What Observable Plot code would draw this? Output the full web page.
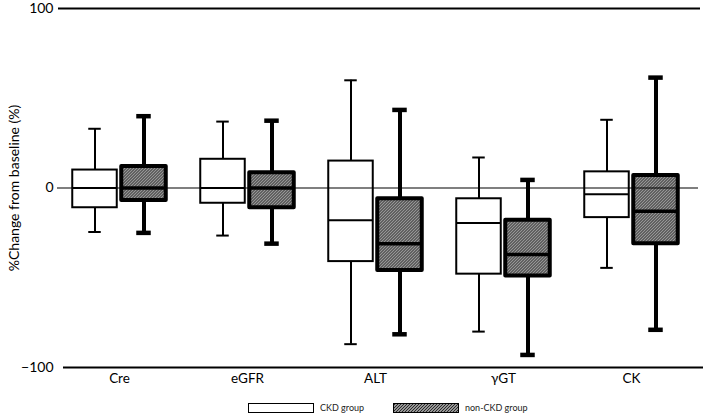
<!DOCTYPE html>
<html>
<head>
<meta charset="utf-8">
<script src="https://cdn.jsdelivr.net/npm/d3@7"></script>
<script src="https://cdn.jsdelivr.net/npm/@observablehq/plot@0.6"></script>
<style>
  body { margin: 0; background: #fff; font-family: Lato, "Open Sans", sans-serif; }
  #legend { position: relative; height: 24px; font-size: 9px; color: #222; }
  .item { position: absolute; top: 9px; display: flex; align-items: center; }
  .item svg { display: block; margin-right: 6px; }
</style>
</head>
<body>
<div id="chart"></div>
<div id="legend"></div>
<script>
const categories = ["Cre", "eGFR", "ALT", "γGT", "CK"];
const groups = ["CKD group", "non-CKD group"];
// CKD group box statistics (% change from baseline)
const ckdHigh   = [33, 37, 60, 17, 38];
const ckdQ3     = [10, 16, 15, -6, 9];
const ckdMedian = [0, 0, -18, -19.5, -3.5];
const ckdQ1     = [-11, -8.5, -41, -48, -16.5];
const ckdLow    = [-24.5, -26.5, -87, -80, -44.5];
// non-CKD group box statistics
const nonHigh   = [40, 37.5, 43.5, 4.5, 61.5];
const nonQ3     = [12, 8.5, -6, -18, 7];
const nonMedian = [0, 0, -31, -37, -13];
const nonQ1     = [-7, -11, -46, -49, -31];
const nonLow    = [-25, -31, -81.5, -93, -79];
const yTicks = [-100, 0, 100];

const rows = (hi, q3, md, q1, lo) => categories.map((c, i) => ({cat: c, high: hi[i], q3: q3[i], median: md[i], q1: q1[i], low: lo[i]}));
const ckd = rows(ckdHigh, ckdQ3, ckdMedian, ckdQ1, ckdLow);
const non = rows(nonHigh, nonQ3, nonMedian, nonQ1, nonLow);

const BW = 128.5;            // band width
const boxIn = (BW - 45) / 2;  // box inset
const capIn = (BW - 13) / 2;  // cap inset (CKD)
const capIn2 = (BW - 15) / 2; // cap inset (non-CKD)

const plot = Plot.plot({
  width: 709,
  height: 393,
  marginTop: 8,
  marginBottom: 26,
  marginLeft: 58,
  marginRight: 9,
  style: {fontFamily: "Lato, 'Open Sans', sans-serif", fontSize: "14px", color: "#000", background: "#fff", overflow: "visible"},
  x: {type: "band", domain: categories, range: [53.25, 695.75], padding: 0},
  y: {domain: [-100, 100]},
  marks: [
    Plot.ruleY([100], {stroke: "#000", strokeWidth: 2.2}),
    Plot.ruleY([-100], {stroke: "#000", strokeWidth: 2.2, insetLeft: 2, dx: 3}),
    // whiskers
    Plot.ruleX(ckd, {x: "cat", y1: "low", y2: "high", dx: -24.5, stroke: "#000", strokeWidth: 2}),
    Plot.ruleX(non, {x: "cat", y1: "low", y2: "high", dx: 24.5, stroke: "#000", strokeWidth: 4}),
    // caps
    Plot.tickY(ckd, {x: "cat", y: "high", dx: -24.5, insetLeft: capIn, insetRight: capIn, stroke: "#000", strokeWidth: 2}),
    Plot.tickY(ckd, {x: "cat", y: "low", dx: -24.5, insetLeft: capIn, insetRight: capIn, stroke: "#000", strokeWidth: 2}),
    Plot.tickY(non, {x: "cat", y: "high", dx: 24.5, insetLeft: capIn2, insetRight: capIn2, stroke: "#000", strokeWidth: 4.5}),
    Plot.tickY(non, {x: "cat", y: "low", dx: 24.5, insetLeft: capIn2, insetRight: capIn2, stroke: "#000", strokeWidth: 4.5}),
    // boxes
    Plot.barY(ckd, {x: "cat", y1: "q1", y2: "q3", dx: -24.5, insetLeft: boxIn, insetRight: boxIn, fill: "#fff", stroke: "#000", strokeWidth: 2}),
    Plot.barY(non, {x: "cat", y1: "q1", y2: "q3", dx: 24.5, insetLeft: boxIn, insetRight: boxIn, fill: "url(#hatch)", stroke: "#000", strokeWidth: 4, strokeLinejoin: "round"}),
    // medians
    Plot.tickY(ckd, {x: "cat", y: "median", dx: -24.5, insetLeft: boxIn, insetRight: boxIn, stroke: "#000", strokeWidth: 2}),
    Plot.tickY(non, {x: "cat", y: "median", dx: 24.5, insetLeft: boxIn, insetRight: boxIn, stroke: "#000", strokeWidth: 3.5}),
    Plot.ruleY([0], {stroke: "#000", strokeWidth: 1.2, insetLeft: -1, insetRight: 2}),
    Plot.axisY({ticks: yTicks, tickSize: 0, tickPadding: 5, label: null, fontSize: 14}),
    Plot.axisX({tickSize: 0, tickPadding: 6, label: null, fontSize: 13.5}),
    Plot.text(["%Change from baseline (%)"], {frameAnchor: "left", textAnchor: "middle", rotate: -90, dx: -44, fontSize: 14})
  ]
});

const ns = "http://www.w3.org/2000/svg";
const patternHTML = (id) => `<pattern id="${id}" patternUnits="userSpaceOnUse" width="3" height="3"><rect width="3" height="3" fill="#c4c4c4"/><path d="M-1,1 l2,-2 M0,3 l3,-3 M2,4 l2,-2" stroke="#222" stroke-width="1.1"/></pattern>`;
const defs = document.createElementNS(ns, "defs");
defs.innerHTML = patternHTML("hatch");
plot.prepend(defs);
document.getElementById("chart").appendChild(plot);

// legend
const legend = document.getElementById("legend");
const lefts = [248, 393];
groups.forEach((g, i) => {
  const item = document.createElement("div");
  item.className = "item";
  item.style.left = lefts[i] + "px";
  const sw = document.createElementNS(ns, "svg");
  sw.setAttribute("width", 66);
  sw.setAttribute("height", 10);
  if (i === 0) {
    sw.innerHTML = `<rect x="0.5" y="0.5" width="65" height="9" fill="#fff" stroke="#000" stroke-width="1"/>`;
  } else {
    sw.innerHTML = `<defs>${patternHTML("hatchL")}</defs><rect x="0.5" y="0.5" width="65" height="9" fill="url(#hatchL)" stroke="#000" stroke-width="1"/>`;
  }
  item.appendChild(sw);
  const t = document.createElement("span");
  t.textContent = g;
  item.appendChild(t);
  legend.appendChild(item);
});
</script>
</body>
</html>
